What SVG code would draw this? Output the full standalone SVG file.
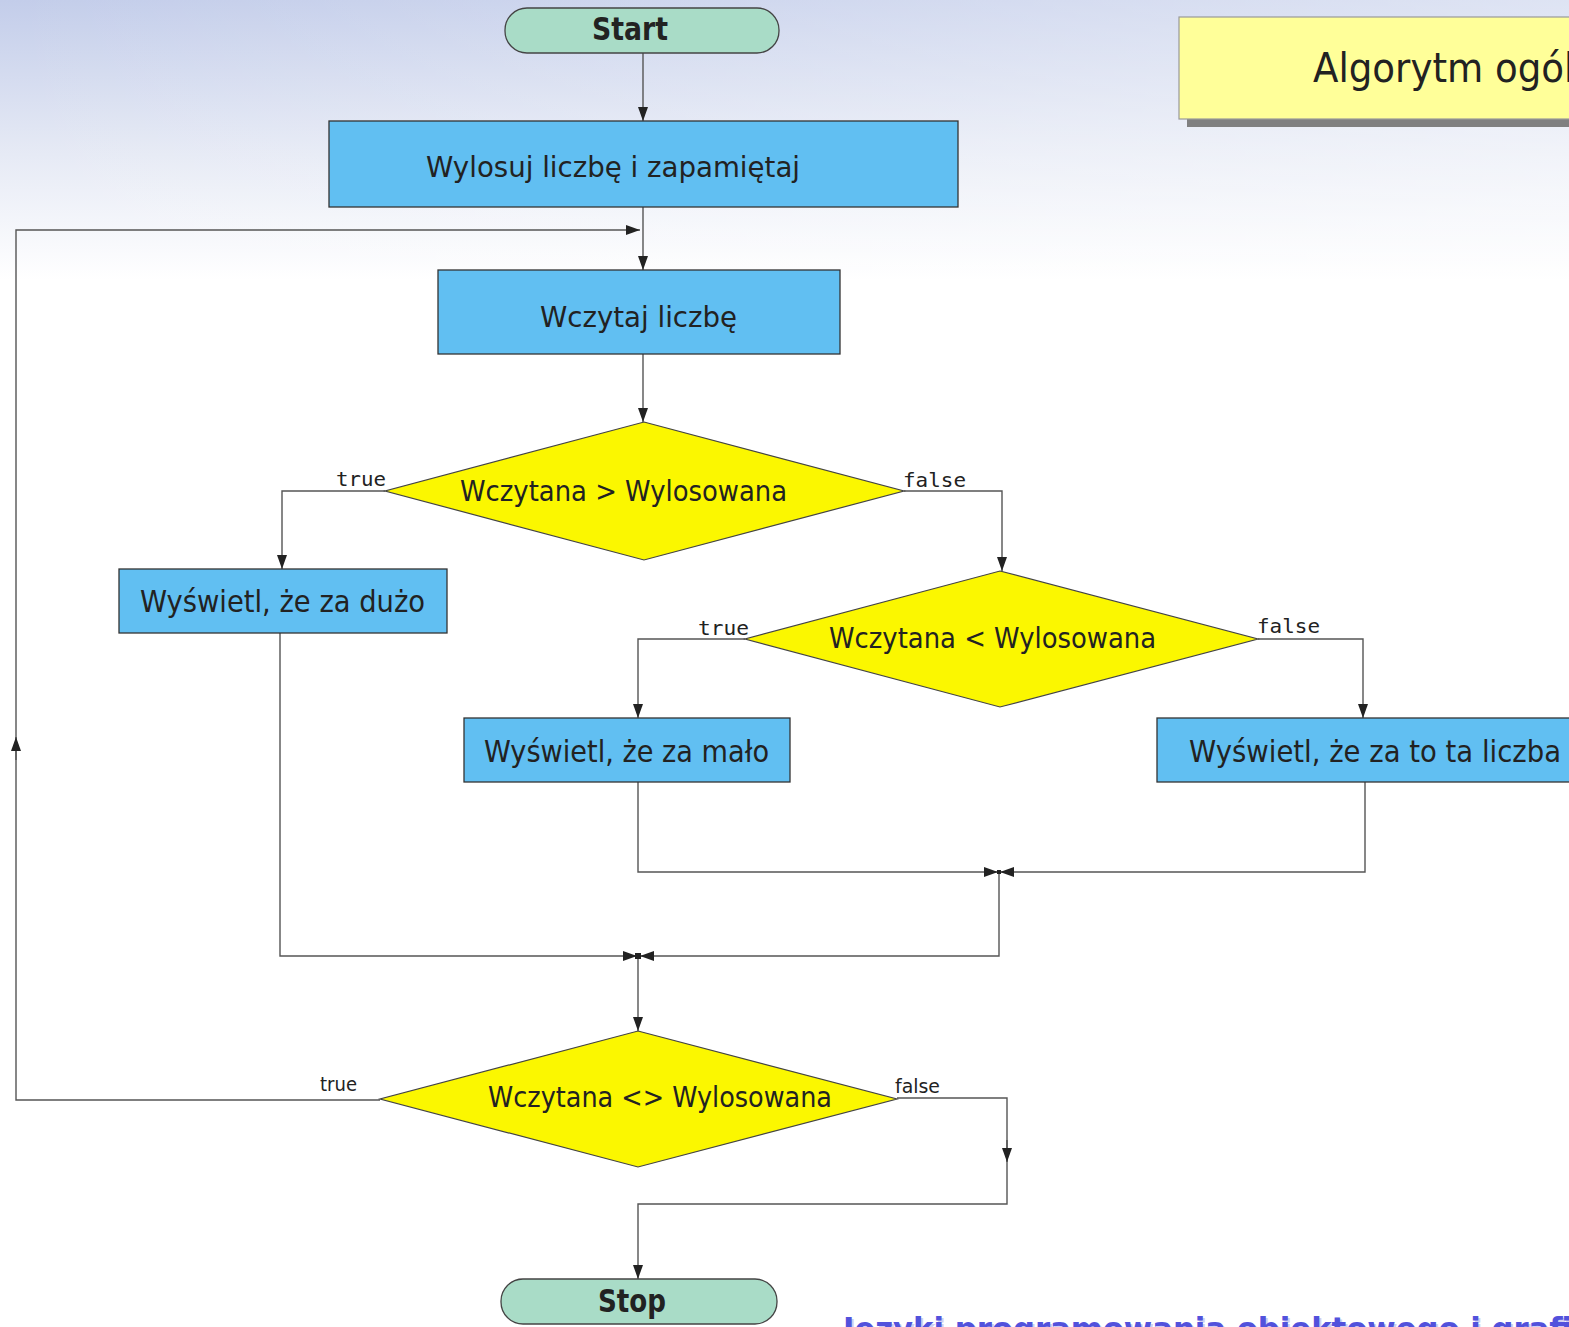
<svg xmlns="http://www.w3.org/2000/svg" width="1569" height="1327" viewBox="0 0 1569 1327">
<defs>
<linearGradient id="bgv" x1="0" y1="0" x2="0" y2="280" gradientUnits="userSpaceOnUse">
<stop offset="0" stop-color="#c3cdea"/>
<stop offset="0.55" stop-color="#e6eaf5"/>
<stop offset="1" stop-color="#ffffff"/>
</linearGradient>
<linearGradient id="bgh" x1="0" y1="0" x2="1569" y2="0" gradientUnits="userSpaceOnUse">
<stop offset="0" stop-color="#ffffff" stop-opacity="0"/>
<stop offset="1" stop-color="#ffffff" stop-opacity="0.45"/>
</linearGradient>
<marker id="arr" viewBox="0 0 14 10" refX="14" refY="5" markerWidth="14" markerHeight="10" markerUnits="userSpaceOnUse" orient="auto">
<path d="M0,0 L14,5 L0,10 Z" fill="#222"/>
</marker>
</defs>
<style>
.term{fill:#a9dcc7;stroke:#444;stroke-width:1.3}
.proc{fill:#61bff2;stroke:#333;stroke-width:1.3}
.dec{fill:#fbf700;stroke:#444;stroke-width:1.2}
.t{font-family:"DejaVu Sans","Liberation Sans",sans-serif;fill:#222}
.tb{font-family:"DejaVu Sans","Liberation Sans",sans-serif;font-weight:bold;fill:#222}
.mono{font-family:"DejaVu Sans Mono","Liberation Mono",monospace;fill:#222;font-size:20px}
.lbl{font-family:"DejaVu Sans","Liberation Sans",sans-serif;fill:#222;font-size:19px}
.ca{fill:none;stroke:#555;stroke-width:1.4;marker-end:url(#arr)}
.foot{font-family:"DejaVu Sans","Liberation Sans",sans-serif;font-weight:bold;font-size:32px}
</style>
<rect x="0" y="0" width="1569" height="1327" fill="#fff"/>
<rect x="0" y="0" width="1569" height="280" fill="url(#bgv)"/>
<rect x="0" y="0" width="1569" height="280" fill="url(#bgh)"/>

<g id="title">
<rect x="1187" y="25" width="400" height="102" fill="#808080"/>
<rect x="1179" y="17" width="400" height="102" fill="#ffff99" stroke="#999" stroke-width="1.2"/>
<text x="1313" y="82" class="t" font-size="40" fill="#333" textLength="307" lengthAdjust="spacingAndGlyphs">Algorytm ogólny</text>
</g>

<g id="connectors">
<path class="ca" d="M643,53 V121"/>
<path class="ca" d="M643,207 V270"/>
<path class="ca" d="M380,1100 H16 V230 H640"/>
<path class="ca" d="M16,760 V737"/>
<path class="ca" d="M643,354 V422"/>
<path class="ca" d="M385,491 H282 V569"/>
<path class="ca" d="M904,491 H1002 V571"/>
<path class="ca" d="M745,639 H638 V718"/>
<path class="ca" d="M1258,639 H1363 V718"/>
<path class="ca" d="M638,782 V872 H998"/>
<path class="ca" d="M1365,782 V872 H1000"/>
<path class="ca" d="M999,872 V956 H640"/>
<path class="ca" d="M280,633 V956 H637"/>
<path class="ca" d="M638,956 V1031"/>
<path class="ca" d="M897,1098 H1007 V1204 H638 V1279"/>
<path class="ca" d="M1007,1140 V1162"/>
<rect x="997" y="870" width="4" height="4" fill="#222"/>
<rect x="635" y="953" width="6" height="6" fill="#222"/>
<text x="336" y="486" class="mono" textLength="50" lengthAdjust="spacingAndGlyphs">true</text>
<text x="903" y="487" class="mono" textLength="63" lengthAdjust="spacingAndGlyphs">false</text>
<text x="698" y="635" class="mono" textLength="51" lengthAdjust="spacingAndGlyphs">true</text>
<text x="1257" y="633" class="mono" textLength="63" lengthAdjust="spacingAndGlyphs">false</text>
<text x="320" y="1091" class="lbl" textLength="37" lengthAdjust="spacingAndGlyphs">true</text>
<text x="895" y="1093" class="lbl" textLength="45" lengthAdjust="spacingAndGlyphs">false</text>
</g>

<g id="start">
<rect x="505" y="8" width="274" height="45" rx="22" ry="22" class="term"/>
<text x="592" y="40" class="tb" font-size="32" textLength="76" lengthAdjust="spacingAndGlyphs">Start</text>
</g>
<g id="wylosuj">
<rect x="329" y="121" width="629" height="86" class="proc"/>
<text x="426" y="177" class="t" font-size="29" textLength="374" lengthAdjust="spacingAndGlyphs">Wylosuj liczbę i zapamiętaj</text>
</g>
<g id="wczytaj">
<rect x="438" y="270" width="402" height="84" class="proc"/>
<text x="540" y="327" class="t" font-size="29" textLength="197" lengthAdjust="spacingAndGlyphs">Wczytaj liczbę</text>
</g>
<g id="dec1">
<polygon points="644,422 904,491 644,560 385,491" class="dec"/>
<text x="460" y="501" class="t" font-size="28" textLength="327" lengthAdjust="spacingAndGlyphs">Wczytana &gt; Wylosowana</text>
</g>
<g id="duzo">
<rect x="119" y="569" width="328" height="64" class="proc"/>
<text x="140" y="612" class="t" font-size="30" textLength="285" lengthAdjust="spacingAndGlyphs">Wyświetl, że za dużo</text>
</g>
<g id="dec2">
<polygon points="1000,571 1258,639 1000,707 745,639" class="dec"/>
<text x="829" y="648" class="t" font-size="28" textLength="327" lengthAdjust="spacingAndGlyphs">Wczytana &lt; Wylosowana</text>
</g>
<g id="malo">
<rect x="464" y="718" width="326" height="64" class="proc"/>
<text x="484" y="762" class="t" font-size="30" textLength="285" lengthAdjust="spacingAndGlyphs">Wyświetl, że za mało</text>
</g>
<g id="liczba">
<rect x="1157" y="718" width="430" height="64" class="proc"/>
<text x="1189" y="762" class="t" font-size="30" textLength="372" lengthAdjust="spacingAndGlyphs">Wyświetl, że za to ta liczba</text>
</g>
<g id="dec3">
<polygon points="638,1031 897,1099 638,1167 380,1099" class="dec"/>
<text x="488" y="1107" class="t" font-size="28" textLength="344" lengthAdjust="spacingAndGlyphs">Wczytana &lt;&gt; Wylosowana</text>
</g>
<g id="stop">
<rect x="501" y="1279" width="276" height="45" rx="22" ry="22" class="term"/>
<text x="598" y="1312" class="tb" font-size="32" textLength="68" lengthAdjust="spacingAndGlyphs">Stop</text>
</g>

<g id="footer">
<text x="845" y="1342" class="foot" fill="#cfcff2" textLength="760" lengthAdjust="spacingAndGlyphs">Języki programowania obiektowego i grafiki</text>
<text x="843" y="1340" class="foot" fill="#5252dc" textLength="760" lengthAdjust="spacingAndGlyphs">Języki programowania obiektowego i grafiki</text>
</g>
</svg>
